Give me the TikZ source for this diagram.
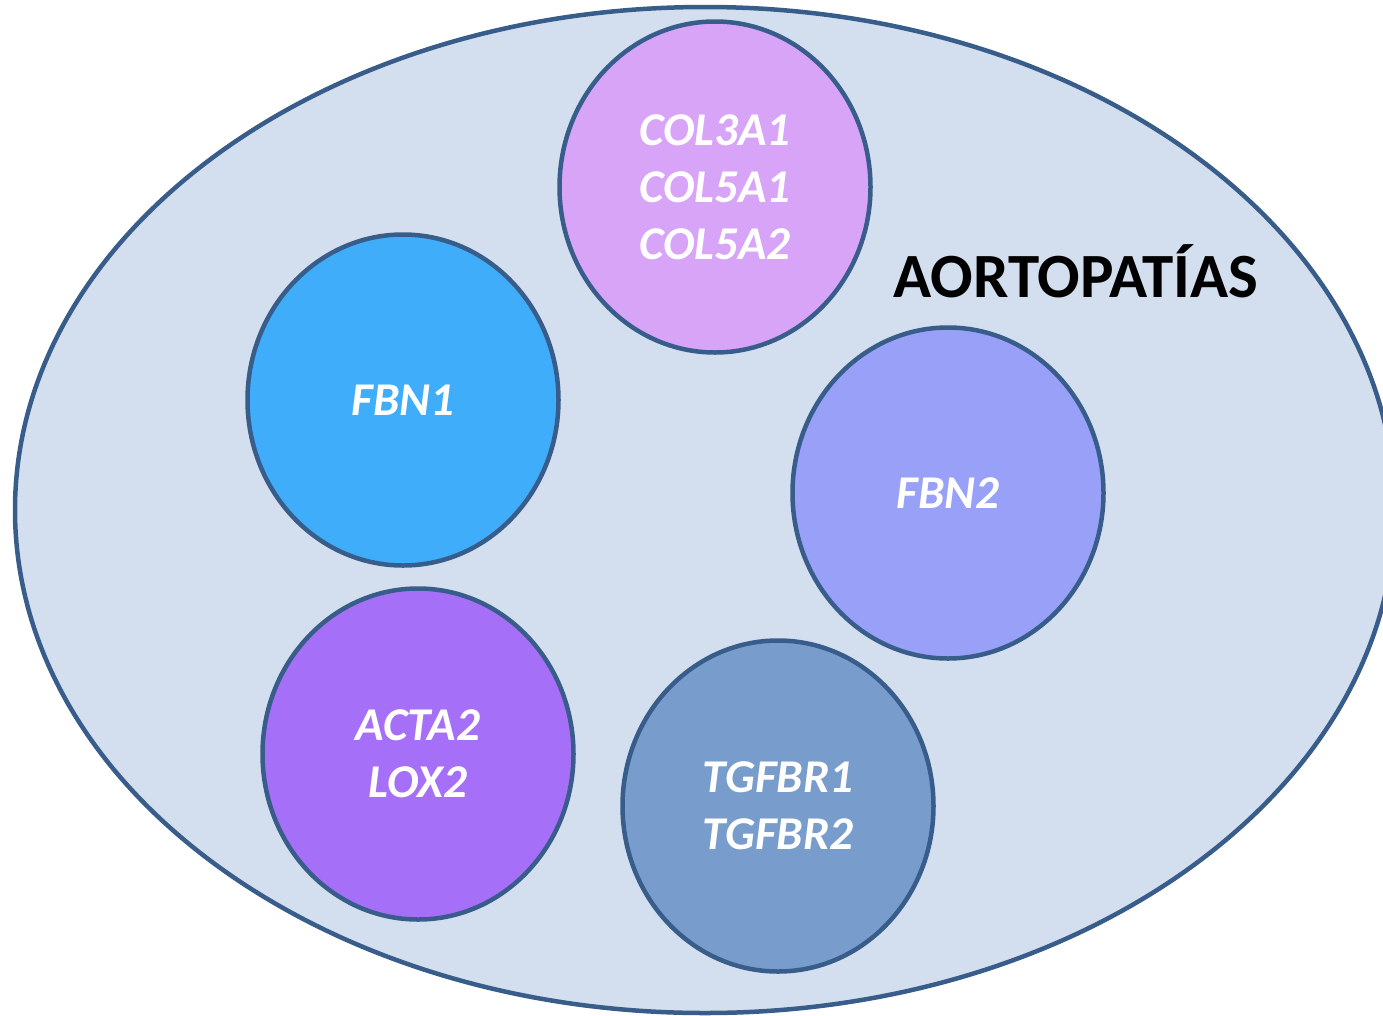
\documentclass[tikz,border=0pt]{standalone}
\usepackage{fontspec}
\setmainfont{Carlito}
\usetikzlibrary{shapes.geometric}
\definecolor{edgeblue}{HTML}{385D8A}
\definecolor{bgfill}{HTML}{D3DFEE}
\definecolor{colfill}{HTML}{D7A4F8}
\definecolor{fbnonefill}{HTML}{3FADF9}
\definecolor{fbntwofill}{HTML}{98A0F8}
\definecolor{actafill}{HTML}{A66FF8}
\definecolor{tgffill}{HTML}{789CCB}
\tikzset{
  gene/.style={ellipse, draw=edgeblue, line width=4.5pt, minimum width=311pt, minimum height=331pt, inner sep=0pt,
    text=white, align=center, font=\fontsize{47}{57}\selectfont\bfseries\itshape},
}
\begin{document}
\begin{tikzpicture}[x=1pt,y=-1pt]
\useasboundingbox (0,0) rectangle (1383,1015);
\clip (0,0) rectangle (1383,1015);
\node[ellipse, draw=edgeblue, fill=bgfill, line width=4.5pt, minimum width=1380pt, minimum height=1006pt, inner sep=0pt] (outer) at (705,510) {};
\node[gene, fill=colfill] (col) at (715,187) {COL3A1\\COL5A1\\COL5A2};
\node[gene, fill=fbnonefill] (fbn1) at (403,400) {FBN1};
\node[gene, fill=fbntwofill] (fbn2) at (948,493) {FBN2};
\node[gene, fill=actafill] (acta) at (418,754) {ACTA2\\LOX2};
\node[gene, fill=tgffill] (tgf) at (778,806) {TGFBR1\\TGFBR2};
\node[font=\fontsize{63}{70}\selectfont\bfseries, text=black, inner sep=0pt] (title) at (1076,271) {AORTOPATÍAS};
\end{tikzpicture}
\end{document}
